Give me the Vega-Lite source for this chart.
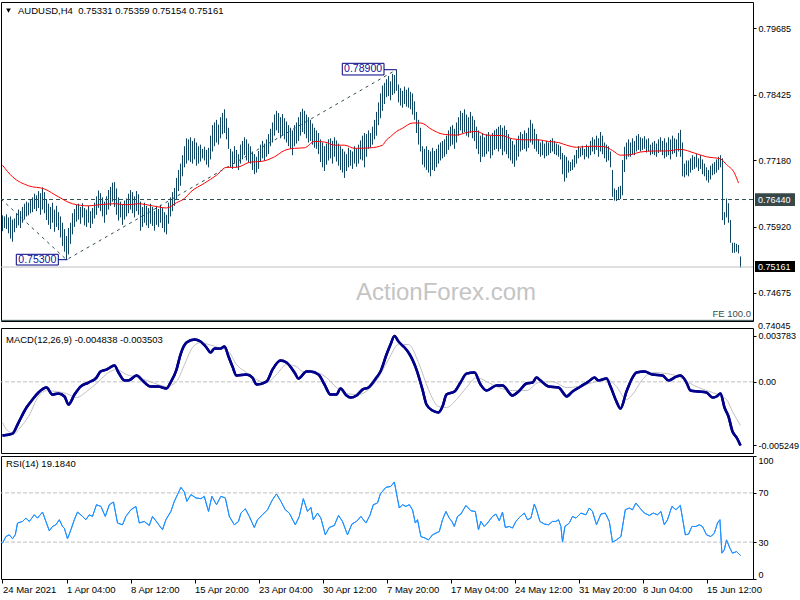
{
"$schema":"https://vega.github.io/schema/vega-lite/v6.json",
"background":"white",
"padding":{"left":-3,"top":1,"right":0,"bottom":0},
"config":{"view":{"stroke":"#000000","strokeWidth":1},"font":"Liberation Sans","axis":{"labelFont":"Liberation Sans","labelFontSize":9,"labelColor":"#000000","tickColor":"#000000","domain":false,"grid":false,"tickSize":3,"labelPadding":2}},
"datasets":{
"one":[{}],
"bars":[{"i":0,"h":0.7614,"l":0.7584},{"i":1,"h":0.7612,"l":0.759},{"i":2,"h":0.7616,"l":0.7588},{"i":3,"h":0.761,"l":0.758},{"i":4,"h":0.7612,"l":0.757},{"i":5,"h":0.7606,"l":0.7564},{"i":6,"h":0.7608,"l":0.7582},{"i":7,"h":0.7618,"l":0.759},{"i":8,"h":0.7625,"l":0.7595},{"i":9,"h":0.7622,"l":0.759},{"i":10,"h":0.763,"l":0.76},{"i":11,"h":0.7636,"l":0.7606},{"i":12,"h":0.764,"l":0.7612},{"i":13,"h":0.7638,"l":0.7614},{"i":14,"h":0.7644,"l":0.7618},{"i":15,"h":0.7648,"l":0.762},{"i":16,"h":0.7655,"l":0.7626},{"i":17,"h":0.7652,"l":0.7622},{"i":18,"h":0.766,"l":0.7628},{"i":19,"h":0.7656,"l":0.7615},{"i":20,"h":0.7667,"l":0.7625},{"i":21,"h":0.7658,"l":0.7618},{"i":22,"h":0.7645,"l":0.7605},{"i":23,"h":0.7636,"l":0.7596},{"i":24,"h":0.763,"l":0.7588},{"i":25,"h":0.7638,"l":0.76},{"i":26,"h":0.7625,"l":0.7583},{"i":27,"h":0.7632,"l":0.7592},{"i":28,"h":0.762,"l":0.7586},{"i":29,"h":0.7612,"l":0.7572},{"i":30,"h":0.76,"l":0.7556},{"i":31,"h":0.7588,"l":0.7545},{"i":32,"h":0.7575,"l":0.753},{"i":33,"h":0.759,"l":0.754},{"i":34,"h":0.76,"l":0.756},{"i":35,"h":0.7618,"l":0.7578},{"i":36,"h":0.7626,"l":0.7592},{"i":37,"h":0.7634,"l":0.7602},{"i":38,"h":0.7636,"l":0.7606},{"i":39,"h":0.763,"l":0.7598},{"i":40,"h":0.7637,"l":0.761},{"i":41,"h":0.7628,"l":0.7595},{"i":42,"h":0.7625,"l":0.7592},{"i":43,"h":0.7632,"l":0.76},{"i":44,"h":0.7622,"l":0.759},{"i":45,"h":0.7628,"l":0.7598},{"i":46,"h":0.7638,"l":0.7608},{"i":47,"h":0.765,"l":0.7615},{"i":48,"h":0.7661,"l":0.7628},{"i":49,"h":0.7656,"l":0.7622},{"i":50,"h":0.7648,"l":0.7612},{"i":51,"h":0.764,"l":0.76},{"i":52,"h":0.765,"l":0.7615},{"i":53,"h":0.7662,"l":0.7625},{"i":54,"h":0.7668,"l":0.7632},{"i":55,"h":0.7676,"l":0.764},{"i":56,"h":0.7677,"l":0.763},{"i":57,"h":0.7665,"l":0.7615},{"i":58,"h":0.7648,"l":0.7604},{"i":59,"h":0.764,"l":0.761},{"i":60,"h":0.7635,"l":0.7596},{"i":61,"h":0.7642,"l":0.7606},{"i":62,"h":0.7646,"l":0.7612},{"i":63,"h":0.7655,"l":0.7618},{"i":64,"h":0.7662,"l":0.7625},{"i":65,"h":0.7658,"l":0.7618},{"i":66,"h":0.765,"l":0.761},{"i":67,"h":0.766,"l":0.7622},{"i":68,"h":0.7654,"l":0.7615},{"i":69,"h":0.764,"l":0.7585},{"i":70,"h":0.763,"l":0.7592},{"i":71,"h":0.7638,"l":0.76},{"i":72,"h":0.7632,"l":0.7595},{"i":73,"h":0.7628,"l":0.759},{"i":74,"h":0.7636,"l":0.7598},{"i":75,"h":0.763,"l":0.7594},{"i":76,"h":0.7622,"l":0.7585},{"i":77,"h":0.7632,"l":0.7596},{"i":78,"h":0.7626,"l":0.7592},{"i":79,"h":0.7634,"l":0.76},{"i":80,"h":0.7628,"l":0.759},{"i":81,"h":0.762,"l":0.7582},{"i":82,"h":0.7615,"l":0.7578},{"i":83,"h":0.7638,"l":0.7598},{"i":84,"h":0.7648,"l":0.7612},{"i":85,"h":0.7658,"l":0.7622},{"i":86,"h":0.7666,"l":0.7632},{"i":87,"h":0.7685,"l":0.7645},{"i":88,"h":0.77,"l":0.766},{"i":89,"h":0.7712,"l":0.767},{"i":90,"h":0.7728,"l":0.7688},{"i":91,"h":0.7745,"l":0.7705},{"i":92,"h":0.776,"l":0.7712},{"i":93,"h":0.7758,"l":0.7718},{"i":94,"h":0.7762,"l":0.7715},{"i":95,"h":0.7755,"l":0.7712},{"i":96,"h":0.776,"l":0.772},{"i":97,"h":0.7752,"l":0.7708},{"i":98,"h":0.7745,"l":0.7712},{"i":99,"h":0.7748,"l":0.7716},{"i":100,"h":0.774,"l":0.7722},{"i":101,"h":0.7744,"l":0.7718},{"i":102,"h":0.7738,"l":0.771},{"i":103,"h":0.7742,"l":0.7705},{"i":104,"h":0.7765,"l":0.772},{"i":105,"h":0.7785,"l":0.7735},{"i":106,"h":0.779,"l":0.7745},{"i":107,"h":0.7795,"l":0.7752},{"i":108,"h":0.7786,"l":0.7748},{"i":109,"h":0.78,"l":0.776},{"i":110,"h":0.7808,"l":0.7768},{"i":111,"h":0.7815,"l":0.777},{"i":112,"h":0.7798,"l":0.7758},{"i":113,"h":0.778,"l":0.774},{"i":114,"h":0.774,"l":0.7705},{"i":115,"h":0.7735,"l":0.7702},{"i":116,"h":0.7745,"l":0.7712},{"i":117,"h":0.7738,"l":0.7705},{"i":118,"h":0.773,"l":0.77},{"i":119,"h":0.7748,"l":0.7712},{"i":120,"h":0.7755,"l":0.772},{"i":121,"h":0.7762,"l":0.7728},{"i":122,"h":0.7758,"l":0.7718},{"i":123,"h":0.775,"l":0.7715},{"i":124,"h":0.7745,"l":0.7712},{"i":125,"h":0.7735,"l":0.77},{"i":126,"h":0.773,"l":0.7692},{"i":127,"h":0.7725,"l":0.7695},{"i":128,"h":0.7736,"l":0.7702},{"i":129,"h":0.7748,"l":0.7715},{"i":130,"h":0.7755,"l":0.7722},{"i":131,"h":0.775,"l":0.7718},{"i":132,"h":0.7758,"l":0.7725},{"i":133,"h":0.7768,"l":0.773},{"i":134,"h":0.7778,"l":0.7745},{"i":135,"h":0.779,"l":0.7752},{"i":136,"h":0.7805,"l":0.7765},{"i":137,"h":0.7812,"l":0.7775},{"i":138,"h":0.7808,"l":0.777},{"i":139,"h":0.78,"l":0.776},{"i":140,"h":0.7806,"l":0.7765},{"i":141,"h":0.7798,"l":0.7758},{"i":142,"h":0.7792,"l":0.7752},{"i":143,"h":0.7785,"l":0.7745},{"i":144,"h":0.778,"l":0.774},{"i":145,"h":0.7775,"l":0.7728},{"i":146,"h":0.7785,"l":0.7745},{"i":147,"h":0.779,"l":0.775},{"i":148,"h":0.78,"l":0.7755},{"i":149,"h":0.781,"l":0.7765},{"i":150,"h":0.7816,"l":0.7772},{"i":151,"h":0.7812,"l":0.7768},{"i":152,"h":0.7805,"l":0.776},{"i":153,"h":0.78,"l":0.7752},{"i":154,"h":0.7795,"l":0.7755},{"i":155,"h":0.7788,"l":0.7748},{"i":156,"h":0.778,"l":0.7742},{"i":157,"h":0.7775,"l":0.774},{"i":158,"h":0.777,"l":0.773},{"i":159,"h":0.7758,"l":0.7715},{"i":160,"h":0.7752,"l":0.7705},{"i":161,"h":0.7745,"l":0.7698},{"i":162,"h":0.775,"l":0.771},{"i":163,"h":0.7758,"l":0.7718},{"i":164,"h":0.776,"l":0.7722},{"i":165,"h":0.7755,"l":0.7712},{"i":166,"h":0.7762,"l":0.7725},{"i":167,"h":0.7756,"l":0.7716},{"i":168,"h":0.775,"l":0.7708},{"i":169,"h":0.7745,"l":0.77},{"i":170,"h":0.774,"l":0.7695},{"i":171,"h":0.7735,"l":0.7685},{"i":172,"h":0.773,"l":0.7698},{"i":173,"h":0.7742,"l":0.7705},{"i":174,"h":0.7738,"l":0.7708},{"i":175,"h":0.7735,"l":0.7702},{"i":176,"h":0.7745,"l":0.7712},{"i":177,"h":0.774,"l":0.7706},{"i":178,"h":0.7748,"l":0.7712},{"i":179,"h":0.7756,"l":0.772},{"i":180,"h":0.7765,"l":0.7718},{"i":181,"h":0.777,"l":0.7705},{"i":182,"h":0.7768,"l":0.7725},{"i":183,"h":0.7775,"l":0.774},{"i":184,"h":0.777,"l":0.7742},{"i":185,"h":0.7782,"l":0.7748},{"i":186,"h":0.7795,"l":0.7758},{"i":187,"h":0.781,"l":0.7765},{"i":188,"h":0.7828,"l":0.7785},{"i":189,"h":0.7845,"l":0.7798},{"i":190,"h":0.786,"l":0.7812},{"i":191,"h":0.7865,"l":0.7825},{"i":192,"h":0.7872,"l":0.7838},{"i":193,"h":0.7878,"l":0.784},{"i":194,"h":0.7868,"l":0.7832},{"i":195,"h":0.7882,"l":0.7842},{"i":196,"h":0.788,"l":0.7845},{"i":197,"h":0.789,"l":0.785},{"i":198,"h":0.7862,"l":0.7828},{"i":199,"h":0.7855,"l":0.7822},{"i":200,"h":0.785,"l":0.7818},{"i":201,"h":0.7858,"l":0.7825},{"i":202,"h":0.7852,"l":0.782},{"i":203,"h":0.7856,"l":0.7818},{"i":204,"h":0.7848,"l":0.7815},{"i":205,"h":0.7845,"l":0.7805},{"i":206,"h":0.783,"l":0.7795},{"i":207,"h":0.781,"l":0.777},{"i":208,"h":0.7795,"l":0.7748},{"i":209,"h":0.778,"l":0.7735},{"i":210,"h":0.7745,"l":0.771},{"i":211,"h":0.774,"l":0.7705},{"i":212,"h":0.7745,"l":0.77},{"i":213,"h":0.7738,"l":0.7695},{"i":214,"h":0.7735,"l":0.7688},{"i":215,"h":0.7742,"l":0.77},{"i":216,"h":0.7736,"l":0.7698},{"i":217,"h":0.774,"l":0.7705},{"i":218,"h":0.7748,"l":0.7712},{"i":219,"h":0.7752,"l":0.7718},{"i":220,"h":0.7755,"l":0.7722},{"i":221,"h":0.7758,"l":0.7725},{"i":222,"h":0.7765,"l":0.773},{"i":223,"h":0.7775,"l":0.7738},{"i":224,"h":0.7782,"l":0.7745},{"i":225,"h":0.7785,"l":0.7748},{"i":226,"h":0.7778,"l":0.774},{"i":227,"h":0.779,"l":0.7752},{"i":228,"h":0.78,"l":0.7765},{"i":229,"h":0.7812,"l":0.7775},{"i":230,"h":0.7808,"l":0.777},{"i":231,"h":0.7815,"l":0.7772},{"i":232,"h":0.7805,"l":0.7765},{"i":233,"h":0.78,"l":0.7762},{"i":234,"h":0.781,"l":0.777},{"i":235,"h":0.7802,"l":0.776},{"i":236,"h":0.7795,"l":0.7755},{"i":237,"h":0.7782,"l":0.774},{"i":238,"h":0.7775,"l":0.773},{"i":239,"h":0.7765,"l":0.7715},{"i":240,"h":0.777,"l":0.7725},{"i":241,"h":0.7762,"l":0.7725},{"i":242,"h":0.7768,"l":0.773},{"i":243,"h":0.7772,"l":0.7735},{"i":244,"h":0.7765,"l":0.7722},{"i":245,"h":0.777,"l":0.7728},{"i":246,"h":0.7775,"l":0.7738},{"i":247,"h":0.7778,"l":0.774},{"i":248,"h":0.7782,"l":0.7735},{"i":249,"h":0.7785,"l":0.774},{"i":250,"h":0.778,"l":0.7728},{"i":251,"h":0.7784,"l":0.7735},{"i":252,"h":0.7776,"l":0.773},{"i":253,"h":0.7768,"l":0.7722},{"i":254,"h":0.776,"l":0.7718},{"i":255,"h":0.7755,"l":0.7712},{"i":256,"h":0.7748,"l":0.7706},{"i":257,"h":0.7758,"l":0.7718},{"i":258,"h":0.7765,"l":0.7725},{"i":259,"h":0.7772,"l":0.7735},{"i":260,"h":0.7768,"l":0.7738},{"i":261,"h":0.7775,"l":0.774},{"i":262,"h":0.777,"l":0.7735},{"i":263,"h":0.778,"l":0.7742},{"i":264,"h":0.7795,"l":0.7752},{"i":265,"h":0.7788,"l":0.7748},{"i":266,"h":0.7778,"l":0.774},{"i":267,"h":0.7768,"l":0.7735},{"i":268,"h":0.7758,"l":0.773},{"i":269,"h":0.7752,"l":0.7725},{"i":270,"h":0.7756,"l":0.7728},{"i":271,"h":0.775,"l":0.7722},{"i":272,"h":0.7755,"l":0.7726},{"i":273,"h":0.7752,"l":0.7728},{"i":274,"h":0.7757,"l":0.7732},{"i":275,"h":0.776,"l":0.7735},{"i":276,"h":0.7755,"l":0.773},{"i":277,"h":0.775,"l":0.7728},{"i":278,"h":0.7748,"l":0.7725},{"i":279,"h":0.7745,"l":0.772},{"i":280,"h":0.7732,"l":0.7692},{"i":281,"h":0.7728,"l":0.7678},{"i":282,"h":0.7725,"l":0.7685},{"i":283,"h":0.7718,"l":0.7695},{"i":284,"h":0.7715,"l":0.7698},{"i":285,"h":0.772,"l":0.77},{"i":286,"h":0.7728,"l":0.7705},{"i":287,"h":0.7738,"l":0.7712},{"i":288,"h":0.7745,"l":0.7722},{"i":289,"h":0.7742,"l":0.7725},{"i":290,"h":0.7746,"l":0.7728},{"i":291,"h":0.774,"l":0.772},{"i":292,"h":0.7748,"l":0.7725},{"i":293,"h":0.7744,"l":0.7722},{"i":294,"h":0.7755,"l":0.7728},{"i":295,"h":0.7762,"l":0.7735},{"i":296,"h":0.7758,"l":0.773},{"i":297,"h":0.7765,"l":0.7738},{"i":298,"h":0.776,"l":0.7725},{"i":299,"h":0.7772,"l":0.7735},{"i":300,"h":0.7765,"l":0.773},{"i":301,"h":0.7752,"l":0.7722},{"i":302,"h":0.7748,"l":0.7715},{"i":303,"h":0.7745,"l":0.7718},{"i":304,"h":0.7735,"l":0.7705},{"i":305,"h":0.77,"l":0.7649},{"i":306,"h":0.7665,"l":0.7642},{"i":307,"h":0.7662,"l":0.7641},{"i":308,"h":0.7668,"l":0.7644},{"i":309,"h":0.767,"l":0.7645},{"i":310,"h":0.7719,"l":0.7652},{"i":311,"h":0.7744,"l":0.7696},{"i":312,"h":0.7752,"l":0.772},{"i":313,"h":0.7758,"l":0.7725},{"i":314,"h":0.7752,"l":0.7725},{"i":315,"h":0.776,"l":0.773},{"i":316,"h":0.7755,"l":0.7728},{"i":317,"h":0.7765,"l":0.7735},{"i":318,"h":0.7768,"l":0.7738},{"i":319,"h":0.7762,"l":0.7735},{"i":320,"h":0.776,"l":0.7738},{"i":321,"h":0.7764,"l":0.774},{"i":322,"h":0.7758,"l":0.7733},{"i":323,"h":0.776,"l":0.7735},{"i":324,"h":0.7748,"l":0.7728},{"i":325,"h":0.7752,"l":0.773},{"i":326,"h":0.7755,"l":0.7728},{"i":327,"h":0.775,"l":0.7725},{"i":328,"h":0.7758,"l":0.7732},{"i":329,"h":0.7762,"l":0.7735},{"i":330,"h":0.7755,"l":0.7728},{"i":331,"h":0.776,"l":0.7722},{"i":332,"h":0.7752,"l":0.7725},{"i":333,"h":0.7762,"l":0.7728},{"i":334,"h":0.7758,"l":0.772},{"i":335,"h":0.7765,"l":0.773},{"i":336,"h":0.776,"l":0.7732},{"i":337,"h":0.7758,"l":0.7725},{"i":338,"h":0.777,"l":0.7735},{"i":339,"h":0.7776,"l":0.7725},{"i":340,"h":0.7752,"l":0.7688},{"i":341,"h":0.7712,"l":0.7686},{"i":342,"h":0.7718,"l":0.769},{"i":343,"h":0.7718,"l":0.7688},{"i":344,"h":0.7722,"l":0.7695},{"i":345,"h":0.7728,"l":0.77},{"i":346,"h":0.7725,"l":0.7702},{"i":347,"h":0.773,"l":0.7705},{"i":348,"h":0.7722,"l":0.7698},{"i":349,"h":0.7728,"l":0.7702},{"i":350,"h":0.772,"l":0.7692},{"i":351,"h":0.7712,"l":0.7688},{"i":352,"h":0.7705,"l":0.768},{"i":353,"h":0.77,"l":0.7676},{"i":354,"h":0.7708,"l":0.7682},{"i":355,"h":0.7712,"l":0.769},{"i":356,"h":0.7715,"l":0.7692},{"i":357,"h":0.772,"l":0.7695},{"i":358,"h":0.7725,"l":0.77},{"i":359,"h":0.7728,"l":0.7705},{"i":360,"h":0.7722,"l":0.7605},{"i":361,"h":0.762,"l":0.7596},{"i":362,"h":0.7646,"l":0.761},{"i":363,"h":0.7637,"l":0.76},{"i":364,"h":0.7605,"l":0.7562},{"i":365,"h":0.7562,"l":0.7543},{"i":366,"h":0.7562,"l":0.7543},{"i":367,"h":0.756,"l":0.7545},{"i":368,"h":0.7558,"l":0.7542},{"i":369,"h":0.7536,"l":0.7515}],
"ma":[{"i":0,"v":0.7709},{"i":5,"v":0.7687},{"i":13,"v":0.767},{"i":21,"v":0.7664},{"i":28,"v":0.7649},{"i":35,"v":0.7636},{"i":43,"v":0.7632},{"i":48,"v":0.7634},{"i":56,"v":0.7636},{"i":62,"v":0.7634},{"i":68,"v":0.7636},{"i":75,"v":0.7632},{"i":82,"v":0.7628},{"i":87,"v":0.7638},{"i":91,"v":0.7646},{"i":94,"v":0.7658},{"i":101,"v":0.7675},{"i":107,"v":0.769},{"i":112,"v":0.7705},{"i":117,"v":0.7705},{"i":124,"v":0.7715},{"i":129,"v":0.7716},{"i":136,"v":0.7725},{"i":141,"v":0.7737},{"i":146,"v":0.7741},{"i":151,"v":0.7742},{"i":156,"v":0.7754},{"i":161,"v":0.7753},{"i":166,"v":0.7747},{"i":171,"v":0.7747},{"i":176,"v":0.7741},{"i":184,"v":0.7742},{"i":190,"v":0.7747},{"i":192,"v":0.7757},{"i":194,"v":0.7763},{"i":197,"v":0.7773},{"i":200,"v":0.7779},{"i":205,"v":0.7789},{"i":209,"v":0.7789},{"i":215,"v":0.7776},{"i":220,"v":0.7768},{"i":227,"v":0.7766},{"i":232,"v":0.7771},{"i":237,"v":0.7773},{"i":242,"v":0.7766},{"i":250,"v":0.7765},{"i":255,"v":0.7759},{"i":262,"v":0.7757},{"i":268,"v":0.7757},{"i":273,"v":0.7754},{"i":278,"v":0.7752},{"i":282,"v":0.7747},{"i":287,"v":0.7743},{"i":294,"v":0.7745},{"i":301,"v":0.7744},{"i":305,"v":0.7737},{"i":309,"v":0.7728},{"i":314,"v":0.7729},{"i":319,"v":0.7734},{"i":326,"v":0.7736},{"i":332,"v":0.7736},{"i":339,"v":0.7739},{"i":346,"v":0.7732},{"i":352,"v":0.7725},{"i":359,"v":0.7721},{"i":362,"v":0.771},{"i":366,"v":0.7694},{"i":368,"v":0.7675}],
"fib":[{"g":"a","i":-0.75,"p":0.7645},{"g":"a","i":32,"p":0.753},{"g":"b","i":33,"p":0.7532},{"g":"b","i":197,"p":0.789}],
"macd":[{"i":0,"v":-0.00443},{"i":5,"v":-0.00427},{"i":8,"v":-0.00336},{"i":12,"v":-0.00212},{"i":15,"v":-0.00146},{"i":18,"v":-0.00088},{"i":22,"v":-0.00047},{"i":25,"v":-0.00105},{"i":28,"v":-0.00097},{"i":31,"v":-0.00121},{"i":33,"v":-0.00187},{"i":36,"v":-0.00105},{"i":39,"v":-0.00039},{"i":43,"v":-0.00006},{"i":47,"v":0.00035},{"i":49,"v":0.00085},{"i":52,"v":0.00101},{"i":56,"v":0.00134},{"i":58,"v":0.00077},{"i":61,"v":0.00011},{"i":63,"v":0.00011},{"i":67,"v":0.00052},{"i":70,"v":0.00011},{"i":74,"v":-0.00039},{"i":78,"v":-0.00039},{"i":82,"v":-0.00055},{"i":84,"v":-0.00006},{"i":87,"v":0.00101},{"i":89,"v":0.00225},{"i":92,"v":0.00324},{"i":96,"v":0.00349},{"i":99,"v":0.00332},{"i":102,"v":0.00283},{"i":104,"v":0.00242},{"i":106,"v":0.00275},{"i":109,"v":0.00275},{"i":111,"v":0.00291},{"i":113,"v":0.00209},{"i":115,"v":0.00126},{"i":117,"v":0.00052},{"i":122,"v":0.0006},{"i":125,"v":0.00035},{"i":127,"v":-0.00022},{"i":132,"v":0.00002},{"i":135,"v":0.00101},{"i":139,"v":0.00176},{"i":142,"v":0.00159},{"i":146,"v":0.00077},{"i":148,"v":0.00027},{"i":152,"v":0.00085},{"i":154,"v":0.00085},{"i":158,"v":0.0006},{"i":161,"v":-0.00022},{"i":164,"v":-0.00105},{"i":167,"v":-0.00105},{"i":169,"v":-0.00055},{"i":172,"v":-0.00113},{"i":174,"v":-0.0013},{"i":177,"v":-0.00113},{"i":180,"v":-0.00064},{"i":183,"v":-0.00047},{"i":187,"v":0.00035},{"i":189,"v":0.00085},{"i":192,"v":0.00225},{"i":194,"v":0.00308},{"i":196,"v":0.00378},{"i":198,"v":0.00332},{"i":201,"v":0.00283},{"i":203,"v":0.00242},{"i":207,"v":0.00101},{"i":210,"v":-0.00064},{"i":212,"v":-0.00187},{"i":215,"v":-0.00237},{"i":218,"v":-0.00253},{"i":220,"v":-0.00204},{"i":222,"v":-0.00105},{"i":226,"v":-0.0008},{"i":229,"v":-0.00006},{"i":232,"v":0.00068},{"i":236,"v":0.00077},{"i":239,"v":-0.00022},{"i":242,"v":-0.00072},{"i":247,"v":-0.00031},{"i":250,"v":-0.00031},{"i":255,"v":-0.00113},{"i":258,"v":-0.0008},{"i":262,"v":-0.00014},{"i":265,"v":-0.00006},{"i":267,"v":0.00035},{"i":269,"v":0.00011},{"i":273,"v":-0.00039},{"i":278,"v":-0.00047},{"i":281,"v":-0.00105},{"i":282,"v":-0.00121},{"i":285,"v":-0.0008},{"i":289,"v":-0.00039},{"i":293,"v":0.00002},{"i":296,"v":0.00035},{"i":298,"v":0.00011},{"i":302,"v":0.00027},{"i":304,"v":-0.00039},{"i":307,"v":-0.00163},{"i":309,"v":-0.0022},{"i":312,"v":-0.0008},{"i":315,"v":0.00035},{"i":317,"v":0.00077},{"i":321,"v":0.00085},{"i":325,"v":0.0006},{"i":330,"v":0.00052},{"i":333,"v":0.00011},{"i":337,"v":0.00044},{"i":339,"v":0.00052},{"i":342,"v":-0.00006},{"i":344,"v":-0.00072},{"i":348,"v":-0.0008},{"i":352,"v":-0.00088},{"i":355,"v":-0.0013},{"i":357,"v":-0.00121},{"i":359,"v":-0.00097},{"i":361,"v":-0.00212},{"i":363,"v":-0.00286},{"i":365,"v":-0.0041},{"i":367,"v":-0.00459},{"i":369,"v":-0.00525}],
"sig":[{"i":0,"v":-0.00336},{"i":2,"v":-0.00393},{"i":6,"v":-0.00427},{"i":8,"v":-0.00393},{"i":13,"v":-0.00286},{"i":18,"v":-0.00121},{"i":22,"v":-0.00072},{"i":27,"v":-0.0008},{"i":32,"v":-0.00097},{"i":37,"v":-0.0013},{"i":42,"v":-0.0008},{"i":48,"v":0.00002},{"i":53,"v":0.00077},{"i":57,"v":0.00101},{"i":62,"v":0.0006},{"i":68,"v":0.00035},{"i":75,"v":-0.00006},{"i":82,"v":-0.00039},{"i":87,"v":0.00002},{"i":91,"v":0.00143},{"i":95,"v":0.00283},{"i":99,"v":0.00324},{"i":103,"v":0.00308},{"i":108,"v":0.00283},{"i":113,"v":0.0025},{"i":117,"v":0.00143},{"i":122,"v":0.00077},{"i":127,"v":0.00019},{"i":132,"v":-0.00006},{"i":137,"v":0.0006},{"i":142,"v":0.00143},{"i":147,"v":0.00126},{"i":150,"v":0.00085},{"i":157,"v":0.00077},{"i":162,"v":0.00035},{"i":167,"v":-0.00047},{"i":172,"v":-0.00097},{"i":178,"v":-0.00105},{"i":183,"v":-0.00064},{"i":188,"v":0.00035},{"i":193,"v":0.00184},{"i":198,"v":0.00308},{"i":203,"v":0.00308},{"i":208,"v":0.00159},{"i":213,"v":-0.00064},{"i":218,"v":-0.00204},{"i":222,"v":-0.00212},{"i":227,"v":-0.00146},{"i":232,"v":-0.00047},{"i":237,"v":0.00035},{"i":242,"v":0.00002},{"i":248,"v":-0.00047},{"i":255,"v":-0.00072},{"i":262,"v":-0.00072},{"i":268,"v":-0.00006},{"i":275,"v":0.00002},{"i":282,"v":-0.00047},{"i":288,"v":-0.00039},{"i":295,"v":-0.00006},{"i":302,"v":0.00019},{"i":307,"v":-0.00039},{"i":312,"v":-0.00146},{"i":315,"v":-0.00105},{"i":320,"v":0.00019},{"i":325,"v":0.00077},{"i":332,"v":0.00068},{"i":338,"v":0.00044},{"i":343,"v":-0.00006},{"i":348,"v":-0.00047},{"i":355,"v":-0.00088},{"i":362,"v":-0.00146},{"i":365,"v":-0.00245},{"i":369,"v":-0.0036}],
"rsi":[{"i":0,"r":29.1},{"i":1.7,"r":34.5},{"i":3.4,"r":35.9},{"i":5,"r":32.7},{"i":6.4,"r":35.9},{"i":7.5,"r":45.5},{"i":10,"r":46.8},{"i":11.7,"r":49.5},{"i":13.4,"r":46.8},{"i":15.9,"r":52.2},{"i":17.5,"r":49.5},{"i":20,"r":54.4},{"i":21.7,"r":46.8},{"i":23.4,"r":39.2},{"i":25,"r":42.7},{"i":26.7,"r":44.1},{"i":28.4,"r":48.2},{"i":30,"r":42.7},{"i":30.9,"r":41.4},{"i":32.5,"r":32.7},{"i":34.2,"r":40},{"i":35.9,"r":48.2},{"i":37.5,"r":54.4},{"i":40,"r":50.9},{"i":41.7,"r":48.2},{"i":43.4,"r":52.2},{"i":45,"r":50.9},{"i":47,"r":60.4},{"i":49.2,"r":59},{"i":51.4,"r":50.9},{"i":53.4,"r":60.4},{"i":55.5,"r":62.6},{"i":57.5,"r":45.5},{"i":60,"r":44.1},{"i":61.7,"r":50.9},{"i":64.2,"r":56.3},{"i":66.7,"r":59},{"i":68.4,"r":45.5},{"i":70.9,"r":46.8},{"i":73.4,"r":43.5},{"i":75,"r":50.9},{"i":77.5,"r":45.5},{"i":80,"r":40},{"i":81.7,"r":48.2},{"i":84.2,"r":54.9},{"i":85.9,"r":63.1},{"i":87.5,"r":68.6},{"i":89.2,"r":74.5},{"i":90.9,"r":70.8},{"i":92.2,"r":63.1},{"i":94.2,"r":68.6},{"i":96.7,"r":65.9},{"i":99.2,"r":65.3},{"i":100.9,"r":67.2},{"i":103,"r":54.9},{"i":104.7,"r":67.2},{"i":107,"r":60.4},{"i":109.2,"r":67.2},{"i":111.4,"r":65.9},{"i":113.4,"r":50.9},{"i":115.9,"r":44.1},{"i":118,"r":46.8},{"i":119.2,"r":53.6},{"i":121.4,"r":57.1},{"i":123.4,"r":50.9},{"i":125.9,"r":41.9},{"i":127.5,"r":48.2},{"i":130,"r":52.2},{"i":132.5,"r":56.3},{"i":135,"r":64.5},{"i":137,"r":69.1},{"i":139.2,"r":63.1},{"i":141.4,"r":56.3},{"i":143.4,"r":53.6},{"i":146.4,"r":44.1},{"i":148.4,"r":50.9},{"i":150.4,"r":65.3},{"i":152.5,"r":54.9},{"i":154.2,"r":58.2},{"i":155.4,"r":48.2},{"i":157.5,"r":53.6},{"i":159.2,"r":49.5},{"i":161.4,"r":35.9},{"i":163.4,"r":41.9},{"i":165.9,"r":43.5},{"i":168,"r":51.7},{"i":170,"r":46.8},{"i":172.5,"r":35.9},{"i":174.7,"r":44.7},{"i":177,"r":46.8},{"i":179.2,"r":50.9},{"i":181.7,"r":45.5},{"i":183.7,"r":51.7},{"i":185.4,"r":60.4},{"i":187.5,"r":61.8},{"i":188.9,"r":69.1},{"i":191.7,"r":74.5},{"i":194.2,"r":75.3},{"i":195.9,"r":78.9},{"i":198.4,"r":57.7},{"i":200,"r":60.4},{"i":201.7,"r":59},{"i":203.4,"r":60.4},{"i":205,"r":56.3},{"i":206.4,"r":45.5},{"i":207.5,"r":48.2},{"i":209.2,"r":34.5},{"i":211.4,"r":33.2},{"i":213,"r":31.8},{"i":215,"r":35.9},{"i":216.7,"r":37.3},{"i":218.4,"r":38.6},{"i":220,"r":48.2},{"i":221.7,"r":54.9},{"i":223.4,"r":49.5},{"i":224.7,"r":46.8},{"i":225.9,"r":42.7},{"i":227.5,"r":50.9},{"i":229.2,"r":52.8},{"i":231.7,"r":59.8},{"i":234.2,"r":55.5},{"i":236.4,"r":54.9},{"i":238,"r":40},{"i":239.2,"r":46.8},{"i":240.9,"r":42.7},{"i":242.5,"r":45.5},{"i":245,"r":50.9},{"i":246.7,"r":52.8},{"i":248.4,"r":47.3},{"i":250,"r":54.4},{"i":251.4,"r":41.9},{"i":253.4,"r":42.7},{"i":255,"r":41.4},{"i":256.7,"r":46.8},{"i":258.4,"r":50},{"i":260.9,"r":53.6},{"i":262.5,"r":48.2},{"i":264.2,"r":49.5},{"i":265.9,"r":61},{"i":267,"r":56.3},{"i":268.7,"r":46.8},{"i":270.9,"r":44.7},{"i":273,"r":44.1},{"i":275,"r":46.8},{"i":276.7,"r":46.8},{"i":278,"r":48.2},{"i":279.2,"r":42.7},{"i":280,"r":30},{"i":281.2,"r":42.7},{"i":283.4,"r":45.5},{"i":285,"r":50.9},{"i":286.7,"r":49.5},{"i":289.2,"r":53.6},{"i":291.7,"r":52.2},{"i":293.4,"r":57.7},{"i":295,"r":54.9},{"i":297,"r":44.1},{"i":299.2,"r":52.8},{"i":301.4,"r":53.6},{"i":303.4,"r":46.8},{"i":305,"r":30},{"i":307,"r":31.8},{"i":309.2,"r":34.5},{"i":311.4,"r":56.3},{"i":313.4,"r":57.7},{"i":315,"r":56.3},{"i":316.7,"r":61.8},{"i":318.7,"r":57.7},{"i":320.9,"r":53.6},{"i":323.4,"r":51.7},{"i":325.4,"r":53.6},{"i":327.5,"r":52.2},{"i":329.2,"r":54.9},{"i":330.9,"r":44.1},{"i":332.5,"r":48.2},{"i":334.7,"r":59},{"i":336.7,"r":56.3},{"i":338.9,"r":59.8},{"i":340,"r":49.5},{"i":341.4,"r":35.9},{"i":343,"r":36.5},{"i":344.7,"r":42.7},{"i":346.7,"r":42.7},{"i":348.4,"r":44.1},{"i":350,"r":42.7},{"i":352,"r":35.9},{"i":354.2,"r":34.5},{"i":355.9,"r":37.3},{"i":357.5,"r":45.5},{"i":358.7,"r":48.2},{"i":359.7,"r":21},{"i":360.9,"r":23.7},{"i":362,"r":31.8},{"i":363.7,"r":25.1},{"i":365,"r":21},{"i":367,"r":22.3},{"i":369,"r":19.2}]
},
"bounds":"flush",
"spacing":7,
"vconcat":[
{
"width":752,"height":319,
"layer":[
{"data":{"name":"bars"},"mark":{"type":"rule","color":"#0f4664","strokeWidth":1},"encoding":{
"x":{"field":"i","type":"quantitative","scale":{"domain":[-0.75,375.25],"nice":false,"zero":false},"axis":null},
"y":{"field":"h","type":"quantitative","scale":{"domain":[0.74138,0.80183],"nice":false,"zero":false},"axis":{"orient":"right","title":null,"values":[0.79685,0.79055,0.78425,0.7781,0.7718,0.7655,0.7592,0.75305,0.74675],"format":".5f","labelOverlap":false}},
"y2":{"field":"l"}}},
{"data":{"name":"one"},"mark":{"type":"text","fontSize":24,"color":"#c4c4c4","align":"center","baseline":"middle","font":"Liberation Sans"},"encoding":{"x":{"datum":221.75,"type":"quantitative"},"y":{"datum":0.74669,"type":"quantitative"},"text":{"value":"ActionForex.com"}}},
{"data":{"name":"one"},"mark":{"type":"rule","color":"#c0c0c0","strokeWidth":1},"encoding":{"y":{"datum":0.75161,"type":"quantitative"}}},
{"data":{"name":"one"},"mark":{"type":"rule","color":"#2f4f4f","strokeWidth":1,"strokeDash":[4,3]},"encoding":{"y":{"datum":0.7644,"type":"quantitative"}}},
{"data":{"name":"one"},"mark":{"type":"rule","color":"#2f4f4f","strokeWidth":1},"encoding":{"y":{"datum":0.7415,"type":"quantitative"}}},
{"data":{"name":"fib"},"mark":{"type":"line","color":"#2f4f4f","strokeWidth":1,"strokeDash":[3,4]},"encoding":{"x":{"field":"i","type":"quantitative"},"y":{"field":"p","type":"quantitative"},"detail":{"field":"g"}}},
{"data":{"name":"ma"},"mark":{"type":"line","color":"#ff0000","strokeWidth":1,"interpolate":"monotone"},"encoding":{"x":{"field":"i","type":"quantitative"},"y":{"field":"v","type":"quantitative"}}},
{"data":{"name":"one"},"mark":{"type":"rect","fill":"#ffffff","stroke":"#000080","strokeWidth":1},"encoding":{"x":{"datum":6.9,"type":"quantitative"},"x2":{"datum":27.9},"y":{"datum":0.75402,"type":"quantitative"},"y2":{"datum":0.75199}}},
{"data":{"name":"one"},"mark":{"type":"rule","color":"#000080","strokeWidth":1},"encoding":{"x":{"datum":27.9,"type":"quantitative"},"x2":{"datum":32.5},"y":{"datum":0.753,"type":"quantitative"}}},
{"data":{"name":"one"},"mark":{"type":"text","fontSize":10.5,"color":"#1010a0","align":"center","baseline":"middle"},"encoding":{"x":{"datum":17.4,"type":"quantitative"},"y":{"datum":0.753,"type":"quantitative"},"text":{"value":"0.75300"}}},
{"data":{"name":"one"},"mark":{"type":"rect","fill":"#ffffff","stroke":"#000080","strokeWidth":1},"encoding":{"x":{"datum":169.9,"type":"quantitative"},"x2":{"datum":190.75},"y":{"datum":0.79021,"type":"quantitative"},"y2":{"datum":0.788}}},
{"data":{"name":"one"},"mark":{"type":"rule","color":"#000080","strokeWidth":1},"encoding":{"x":{"datum":190.75,"type":"quantitative"},"x2":{"datum":197},"y":{"datum":0.789,"type":"quantitative"}}},
{"data":{"name":"one"},"mark":{"type":"text","fontSize":10.5,"color":"#1010a0","align":"center","baseline":"middle"},"encoding":{"x":{"datum":180.3,"type":"quantitative"},"y":{"datum":0.7891,"type":"quantitative"},"text":{"value":"0.78900"}}},
{"data":{"name":"one"},"mark":{"type":"point","shape":"triangle-down","filled":true,"color":"#000000","size":22,"opacity":1},"encoding":{"x":{"datum":3,"type":"quantitative"},"y":{"datum":0.8002,"type":"quantitative"}}},
{"data":{"name":"one"},"mark":{"type":"text","fontSize":9.5,"color":"#000000","align":"left","baseline":"middle"},"encoding":{"x":{"datum":7.75,"type":"quantitative"},"y":{"datum":0.80018,"type":"quantitative"},"text":{"value":"AUDUSD,H4 \u00a00.75331 0.75359 0.75154 0.75161"}}},
{"data":{"name":"one"},"mark":{"type":"text","fontSize":9.5,"color":"#2f4f4f","align":"right","baseline":"middle"},"encoding":{"x":{"datum":374.25,"type":"quantitative"},"y":{"datum":0.74271,"type":"quantitative"},"text":{"value":"FE 100.0"}}},
{"data":{"name":"one"},"mark":{"type":"text","fontSize":9,"color":"#000000","align":"left","baseline":"middle"},"encoding":{"x":{"datum":377.75,"type":"quantitative"},"y":{"datum":0.74045,"type":"quantitative"},"text":{"value":"0.74045"}}},
{"data":{"name":"one"},"mark":{"type":"rect","fill":"#384848"},"encoding":{"x":{"datum":376.25,"type":"quantitative"},"x2":{"datum":396.25},"y":{"datum":0.76558,"type":"quantitative"},"y2":{"datum":0.76317}}},
{"data":{"name":"one"},"mark":{"type":"text","fontSize":9,"color":"#ffffff","align":"left","baseline":"middle"},"encoding":{"x":{"datum":377.75,"type":"quantitative"},"y":{"datum":0.7644,"type":"quantitative"},"text":{"value":"0.76440"}}},
{"data":{"name":"one"},"mark":{"type":"rect","fill":"#000000"},"encoding":{"x":{"datum":376.25,"type":"quantitative"},"x2":{"datum":396.25},"y":{"datum":0.75275,"type":"quantitative"},"y2":{"datum":0.75067}}},
{"data":{"name":"one"},"mark":{"type":"text","fontSize":9,"color":"#ffffff","align":"left","baseline":"middle"},"encoding":{"x":{"datum":377.75,"type":"quantitative"},"y":{"datum":0.75161,"type":"quantitative"},"text":{"value":"0.75161"}}}
]
},
{
"bounds":"flush",
"spacing":3,
"vconcat":[
{
"width":752,"height":125,
"layer":[
{"data":{"name":"macd"},"mark":{"type":"line","color":"#00008b","strokeWidth":2.5,"interpolate":"monotone"},"encoding":{
"x":{"field":"i","type":"quantitative","scale":{"domain":[-0.75,375.25],"nice":false,"zero":false},"axis":null},
"y":{"field":"v","type":"quantitative","scale":{"domain":[-0.00587,0.00444],"nice":false,"zero":false},"axis":{"orient":"right","title":null,"values":[0.003783,0,-0.005249],"labelExpr":"datum.value == 0 ? '0.00' : (datum.value < 0 ? '-' + format(-datum.value, '.6f') : format(datum.value, '.6f'))","labelOverlap":false}}}},
{"data":{"name":"one"},"mark":{"type":"rule","color":"#c0c0c0","strokeWidth":1,"strokeDash":[4,2]},"encoding":{"y":{"datum":0,"type":"quantitative"}}},
{"data":{"name":"sig"},"mark":{"type":"line","color":"#c0c0c0","strokeWidth":1,"interpolate":"monotone"},"encoding":{"x":{"field":"i","type":"quantitative"},"y":{"field":"v","type":"quantitative"}}},
{"data":{"name":"macd"},"mark":{"type":"line","color":"#00008b","strokeWidth":2.5,"interpolate":"monotone"},"encoding":{"x":{"field":"i","type":"quantitative"},"y":{"field":"v","type":"quantitative"}}},
{"data":{"name":"one"},"mark":{"type":"text","fontSize":9.5,"color":"#000000","align":"left","baseline":"middle"},"encoding":{"x":{"datum":1.75,"type":"quantitative"},"y":{"datum":0.00345,"type":"quantitative"},"text":{"value":"MACD(12,26,9) -0.004838 -0.003503"}}}
]
},
{
"width":752,"height":123,
"layer":[
{"data":{"name":"rsi"},"mark":{"type":"line","color":"#1e90ff","strokeWidth":1},"encoding":{
"x":{"field":"i","type":"quantitative","scale":{"domain":[-0.75,375.25],"nice":false,"zero":false},"axis":{"orient":"bottom","title":null,"values":[0,32,64,96,128,160,192,224,256,288,320,352],"labelExpr":"['24 Mar 2021','1 Apr 04:00','8 Apr 12:00','15 Apr 20:00','23 Apr 04:00','30 Apr 12:00','7 May 20:00','17 May 04:00','24 May 12:00','31 May 20:00','8 Jun 04:00','15 Jun 12:00'][round(datum.value/32)]","labelAlign":"left","labelFlush":false,"labelOverlap":false,"labelBound":false,"tickSize":4,"labelPadding":1,"labelDx":1,"labelFontSize":9.5}},
"y":{"field":"r","type":"quantitative","scale":{"domain":[0,100],"nice":false,"zero":false},"axis":{"orient":"right","title":null,"values":[0,30,70,100],"labelFlush":true,"labelOverlap":false}}}},
{"data":{"name":"one"},"mark":{"type":"rule","color":"#c0c0c0","strokeWidth":1,"strokeDash":[4,2]},"encoding":{"y":{"datum":70,"type":"quantitative"}}},
{"data":{"name":"one"},"mark":{"type":"rule","color":"#c0c0c0","strokeWidth":1,"strokeDash":[4,2]},"encoding":{"y":{"datum":30,"type":"quantitative"}}},
{"data":{"name":"rsi"},"mark":{"type":"line","color":"#1e90ff","strokeWidth":1},"encoding":{"x":{"field":"i","type":"quantitative"},"y":{"field":"r","type":"quantitative"}}},
{"data":{"name":"one"},"mark":{"type":"text","fontSize":9.5,"color":"#000000","align":"left","baseline":"middle"},"encoding":{"x":{"datum":1.75,"type":"quantitative"},"y":{"datum":93.2,"type":"quantitative"},"text":{"value":"RSI(14) 19.1840"}}}
]
}
]
}
]
}
